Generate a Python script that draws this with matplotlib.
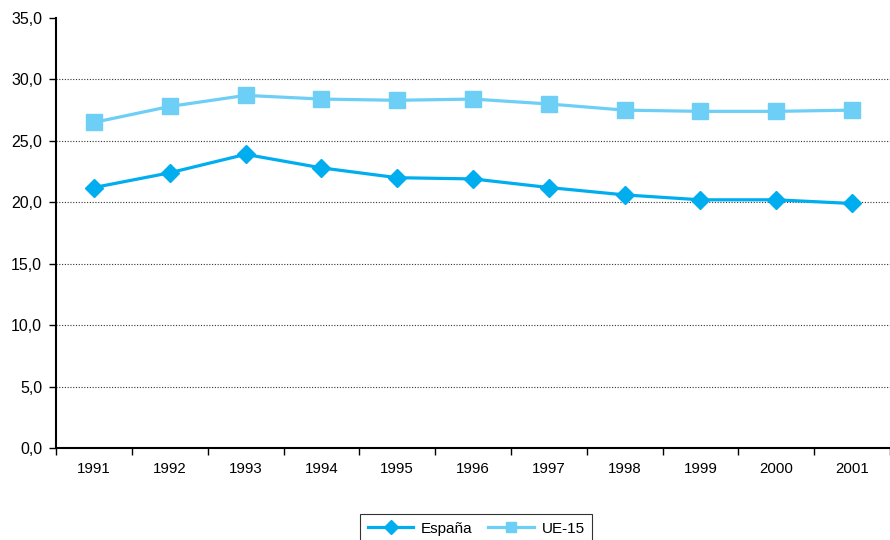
import numpy as np
import matplotlib.pyplot as plt

plt.rcParams['font.family'] = ['Liberation Sans', 'DejaVu Sans']

years = ['1991', '1992', '1993', '1994', '1995', '1996', '1997', '1998', '1999', '2000', '2001']
espana = [21.2, 22.4, 23.9, 22.8, 22.0, 21.9, 21.2, 20.6, 20.2, 20.2, 19.9]
ue15 = [26.5, 27.8, 28.7, 28.4, 28.3, 28.4, 28.0, 27.5, 27.4, 27.4, 27.5]

c_es = '#00AEEF'
c_ue = '#6DCFF6'

fig = plt.figure(figsize=(8.9, 5.4), dpi=100)
ax = fig.add_axes([0.063, 0.1704, 0.937, 0.7963])

x = np.arange(len(years))
ax.plot(x, espana, color=c_es, lw=2.3, marker='D', ms=9.5, mec=c_es, label='España', zorder=3)
ax.plot(x, ue15, color=c_ue, lw=2.3, marker='s', ms=11, mec=c_ue, label='UE-15', zorder=3)

ax.set_ylim(0, 35)
ax.set_yticks(np.arange(0, 36, 5))
ax.set_yticklabels([f'{v:.1f}'.replace('.', ',') for v in np.arange(0, 36, 5)], fontsize=11.5)
for v in range(5, 35, 5):
    ax.axhline(v, color='#333333', lw=0.8, ls=(0, (1, 1.5)), zorder=1)

ax.set_xlim(-0.5, 10.42)
ax.set_xticks(x)
ax.set_xticklabels(years, fontsize=10.8)
ax.tick_params(axis='x', which='major', length=0, pad=10)
ax.set_xticks(np.arange(-0.5, 10.6, 1), minor=True)
ax.tick_params(axis='x', which='minor', length=5, width=1, direction='out')
ax.tick_params(axis='y', length=5, width=1, direction='out', pad=5)

for s in ['top', 'right']:
    ax.spines[s].set_visible(False)
for s in ['left', 'bottom']:
    ax.spines[s].set_linewidth(1.5)

leg = fig.legend(loc='upper center', bbox_to_anchor=(0.535, 0.062), ncol=2, fontsize=11,
                 frameon=True, fancybox=False, edgecolor='black', markerscale=0.7,
                 handlelength=3, handletextpad=0.5, columnspacing=1.0, borderpad=0.5)
leg.get_frame().set_linewidth(0.8)

fig.savefig('out.png', dpi=100)
